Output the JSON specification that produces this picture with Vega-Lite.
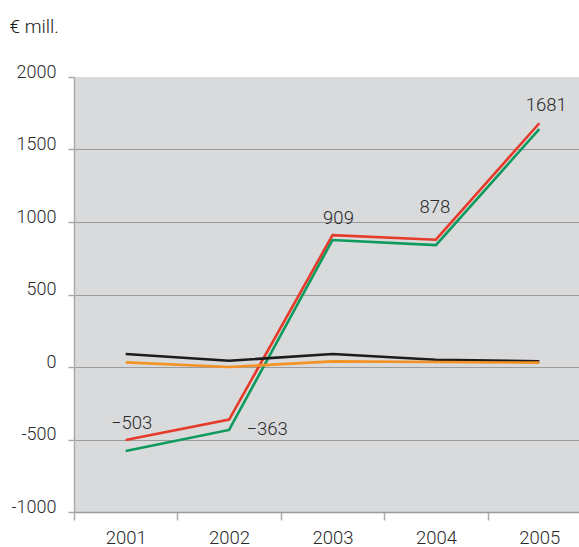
{
  "$schema": "https://vega.github.io/schema/vega-lite/v6.json",
  "width": 505,
  "height": 435,
  "autosize": {"type": "none"},
  "padding": {"left": 74, "top": 77, "right": 0, "bottom": 35},
  "background": "white",
  "config": {
    "view": {"fill": "#d9dadc", "stroke": null},
    "font": "Roboto",
    "text": {"font": "Roboto", "fontWeight": 300}
  },
  "data": {
    "values": [
      {"year": "2001", "series": "red", "value": -503},
      {"year": "2002", "series": "red", "value": -363},
      {"year": "2003", "series": "red", "value": 909},
      {"year": "2004", "series": "red", "value": 878},
      {"year": "2005", "series": "red", "value": 1681},
      {"year": "2001", "series": "green", "value": -579},
      {"year": "2002", "series": "green", "value": -434},
      {"year": "2003", "series": "green", "value": 876},
      {"year": "2004", "series": "green", "value": 841},
      {"year": "2005", "series": "green", "value": 1641},
      {"year": "2001", "series": "black", "value": 90},
      {"year": "2002", "series": "black", "value": 43},
      {"year": "2003", "series": "black", "value": 90},
      {"year": "2004", "series": "black", "value": 50},
      {"year": "2005", "series": "black", "value": 39},
      {"year": "2001", "series": "orange", "value": 32},
      {"year": "2002", "series": "orange", "value": 0},
      {"year": "2003", "series": "orange", "value": 39},
      {"year": "2004", "series": "orange", "value": 34},
      {"year": "2005", "series": "orange", "value": 30}
    ]
  },
  "encoding": {
    "x": {
      "field": "year",
      "type": "ordinal",
      "scale": {"type": "band", "paddingInner": 0, "paddingOuter": 0, "range": [0, 517]},
      "axis": {
        "title": null,
        "labelAngle": 0,
        "tickBand": "extent",
        "tickSize": 8,
        "tickColor": "#aaaaaa",
        "tickWidth": 1.5,
        "domainColor": "#9a9a9a",
        "domainWidth": 1.5,
        "labelPadding": 8,
        "labelFontSize": 18.5,
        "labelFont": "Roboto",
        "labelFontWeight": 300,
        "labelColor": "#2a2a2a",
        "labelBaseline": "top",
        "grid": false
      }
    },
    "y": {
      "field": "value",
      "type": "quantitative",
      "scale": {"domain": [-1000, 2000], "nice": false, "zero": false},
      "axis": {
        "values": [-1000, -500, 0, 500, 1000, 1500, 2000],
        "format": "d",
        "labelExpr": "replace(datum.label, '\u2212', '-')",
        "title": "\u20ac mill.",
        "titleAngle": 0,
        "titleAlign": "left",
        "titleBaseline": "alphabetic",
        "titleX": -65,
        "titleY": -45,
        "titleFont": "Roboto",
        "titleFontWeight": 300,
        "titleFontSize": 19,
        "titleColor": "#1a1a1a",
        "labelFontSize": 18,
        "labelFont": "Roboto",
        "labelFontWeight": 300,
        "labelColor": "#2a2a2a",
        "labelBaseline": "alphabetic",
        "labelPadding": 12,
        "tickSize": 6,
        "tickColor": "#aaaaaa",
        "tickWidth": 1.5,
        "domainColor": "#aaaaaa",
        "domainWidth": 1.5,
        "grid": true,
        "gridColor": "#9c9c9c",
        "gridWidth": 1.2,
        "gridOpacity": {"condition": {"test": "datum.value == 2000", "value": 0}, "value": 1}
      }
    }
  },
  "layer": [
    {
      "mark": {"type": "line", "strokeWidth": 2.6},
      "encoding": {
        "color": {
          "field": "series",
          "type": "nominal",
          "scale": {"domain": ["black", "orange", "green", "red"], "range": ["#1c1c1c", "#f39325", "#0d9a5c", "#e63a2b"]},
          "legend": null
        },
        "order": {"field": "year"}
      }
    },
    {
      "transform": [{"filter": "datum.series == 'red' && (datum.year == '2001' || datum.year == '2003')"}],
      "mark": {"type": "text", "fontSize": 18.5, "color": "#2a2a2a", "dx": 6, "dy": -17},
      "encoding": {"text": {"field": "value", "type": "quantitative", "format": "d"}}
    },
    {
      "transform": [{"filter": "datum.series == 'red' && datum.year == '2002'"}],
      "mark": {"type": "text", "fontSize": 18.5, "color": "#2a2a2a", "dx": 38, "dy": 9},
      "encoding": {"text": {"field": "value", "type": "quantitative", "format": "d"}}
    },
    {
      "transform": [{"filter": "datum.series == 'red' && datum.year == '2004'"}],
      "mark": {"type": "text", "fontSize": 18.5, "color": "#2a2a2a", "dx": -1, "dy": -33},
      "encoding": {"text": {"field": "value", "type": "quantitative", "format": "d"}}
    },
    {
      "transform": [{"filter": "datum.series == 'red' && datum.year == '2005'"}],
      "mark": {"type": "text", "fontSize": 18.5, "color": "#2a2a2a", "dx": 7, "dy": -18},
      "encoding": {"text": {"field": "value", "type": "quantitative", "format": "d"}}
    }
  ]
}
